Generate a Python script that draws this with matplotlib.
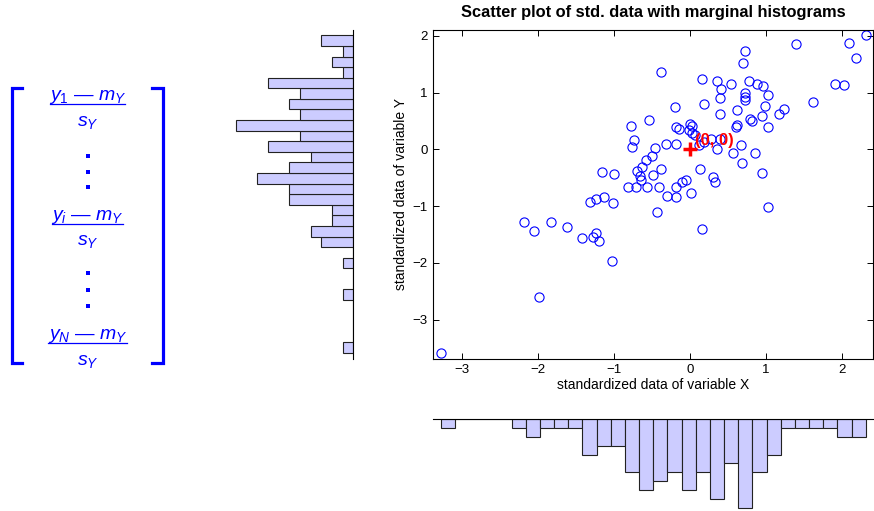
import numpy as np
import matplotlib
matplotlib.use('Agg')
import matplotlib.pyplot as plt

plt.rcParams['font.family'] = 'Liberation Sans'
plt.rcParams['mathtext.fontset'] = 'custom'
plt.rcParams['mathtext.it'] = 'Liberation Sans:italic'
plt.rcParams['mathtext.rm'] = 'Liberation Sans'

# standardized observations (X, Y)
x_std = [2.31, 1.39, 2.09, 2.18, 0.72, 0.70, -0.38, 0.15, 0.35, 0.78,
         0.54, 0.88, 0.96, 0.41, 1.90, 2.03, 0.72, 0.72, 0.72, 0.39,
         1.03, 0.18, 1.61, 0.99, -0.20, 0.62, 1.24, 1.17, 0.39, 0.95,
         0.79, 0.81, -0.54, -0.78, -0.18, -0.15, 0.00, 0.02, 0.60, 0.61,
         1.02, -0.02, 0.02, 0.065, -0.74, 0.18, 0.275, 0.39, -0.77, -0.46,
         -0.315, -0.18, 0.35, 0.67, 0.56, 0.85, -0.50, -0.58, 0.68, 0.13,
         -0.39, -0.64, -0.70, -0.66, -0.65, -1.16, -1.00, -0.495, 0.95, 0.30,
         0.33, -0.06, -0.105, -0.82, -0.71, -0.57, -0.41, -0.19, -0.31, -0.18,
         0.01, -1.13, -1.32, -1.24, -1.02, -0.44, 1.02, -2.19, -1.83, -2.05,
         -1.615, -1.425, -1.28, -1.24, -1.20, 0.16, -1.03, -1.99, -3.28, 0.12]
y_std = [2.01, 1.85, 1.87, 1.61, 1.73, 1.53, 1.36, 1.24, 1.20, 1.20,
         1.15, 1.16, 1.12, 1.06, 1.15, 1.14, 0.99, 0.92, 0.87, 0.91,
         0.95, 0.80, 0.84, 0.77, 0.74, 0.69, 0.715, 0.62, 0.62, 0.58,
         0.53, 0.50, 0.51, 0.42, 0.40, 0.36, 0.44, 0.41, 0.40, 0.43,
         0.40, 0.34, 0.29, 0.25, 0.17, 0.13, 0.19, 0.19, 0.05, 0.02,
         0.10, 0.09, 0.01, 0.08, -0.055, -0.055, -0.11, -0.19, -0.24, -0.34,
         -0.35, -0.31, -0.38, -0.47, -0.54, -0.40, -0.44, -0.46, -0.425, -0.49,
         -0.57, -0.54, -0.58, -0.67, -0.67, -0.67, -0.66, -0.67, -0.82, -0.84,
         -0.77, -0.84, -0.92, -0.88, -0.95, -1.10, -1.01, -1.28, -1.28, -1.43,
         -1.365, -1.57, -1.55, -1.47, -1.61, -1.40, -1.96, -2.60, -3.59, 0.08]
n_bins = 30

x = np.array(x_std)
y = np.array(y_std)

W, H = 874, 511


def px_rect(left, top, right, bottom):
    return [left / W, 1 - bottom / H, (right - left) / W, (bottom - top) / H]


fig = plt.figure(figsize=(W / 100, H / 100), dpi=100)

xlim = (x.min() - 0.1, x.max() + 0.1)
ylim = (y.min() - 0.1, y.max() + 0.1)
bar_face = (0.8, 0.8, 1.0)

# main scatter
ax = fig.add_axes(px_rect(433.3, 29.7, 873.3, 358.7))
ax.plot(x, y, 'o', mfc='none', mec='b', ms=6.6, mew=0.8)
ax.plot(0, 0, '+', color='r', ms=10, mew=2.5)
ax.text(0.06, 0.16, '(0, 0)', color='r', fontweight='bold', fontsize=12,
        va='center', ha='left')
ax.set_xlim(xlim)
ax.set_ylim(ylim)
ax.set_xticks([-3, -2, -1, 0, 1, 2])
ax.set_yticks([-3, -2, -1, 0, 1, 2])
ax.tick_params(direction='in', top=True, right=True, length=4, width=0.7,
               labelsize=9.5, pad=4)
for s in ax.spines.values():
    s.set_linewidth(0.8)
ax.set_title('Scatter plot of std. data with marginal histograms',
             fontweight='bold', fontsize=11.8, pad=9)
ax.set_xlabel('standardized data of variable X', fontsize=10, labelpad=1)
ax.set_ylabel('standardized data of variable Y', fontsize=10, labelpad=3)

# marginal histogram of Y (bars grow to the left)
cy, ey = np.histogram(y, bins=n_bins)
ax_l = fig.add_axes(px_rect(225.3, 29.7, 353.3, 358.7))
ax_l.barh(ey[:-1], cy, height=np.diff(ey), align='edge', color=bar_face,
          edgecolor='#222222', linewidth=0.8)
ax_l.set_ylim(ylim)
ax_l.set_xlim(12.0, 0)
ax_l.set_xticks([])
ax_l.set_yticks([])
for side in ['left', 'top', 'bottom']:
    ax_l.spines[side].set_visible(False)
ax_l.spines['right'].set_linewidth(0.8)
ax_l.patch.set_alpha(0)

# marginal histogram of X (bars hang down)
cx, ex = np.histogram(x, bins=n_bins)
ax_b = fig.add_axes(px_rect(433.3, 419.3, 873.3, 511))
ax_b.bar(ex[:-1], cx, width=np.diff(ex), align='edge', color=bar_face,
         edgecolor='#222222', linewidth=0.8)
ax_b.set_xlim(xlim)
ax_b.set_ylim(10.38, 0)
ax_b.set_xticks([])
ax_b.set_yticks([])
for side in ['left', 'right', 'bottom']:
    ax_b.spines[side].set_visible(False)
ax_b.spines['top'].set_linewidth(0.8)
ax_b.patch.set_alpha(0)

# standardized column vector of Y
ax_eq = fig.add_axes([0, 0, 200 / W, 1])
ax_eq.set_xlim(0, 200)
ax_eq.set_ylim(H, 0)
ax_eq.axis('off')
blue = (0, 0, 1)
ax_eq.plot([22, 12, 12, 22], [88, 88, 363, 363], color=blue, lw=2.3,
           solid_joinstyle='miter')
ax_eq.plot([152, 163, 163, 152], [88, 88, 363, 363], color=blue, lw=2.3,
           solid_joinstyle='miter')

numerators = [r'$y_1$ — $m_Y$', r'$y_i$ — $m_Y$', r'$y_N$ — $m_Y$']
rule_y = [104.3, 224, 343]
rule_x = [(50, 125), (52, 123), (48, 127)]
for num, ly, (x0, x1) in zip(numerators, rule_y, rule_x):
    ax_eq.plot([x0, x1], [ly, ly], color=blue, lw=0.9)
    ax_eq.text(87.5, ly - 4, num, color=blue, fontsize=14,
               ha='center', va='baseline')
    ax_eq.text(87.5, ly + 21.5, r'$s_Y$', color=blue, fontsize=14,
               ha='center', va='baseline')

for ys in ([156, 172, 187], [273, 290, 306]):
    ax_eq.plot([87.5] * 3, ys, 's', color=blue, ms=2.2, mew=0)

fig.savefig('out.png', dpi=100)
